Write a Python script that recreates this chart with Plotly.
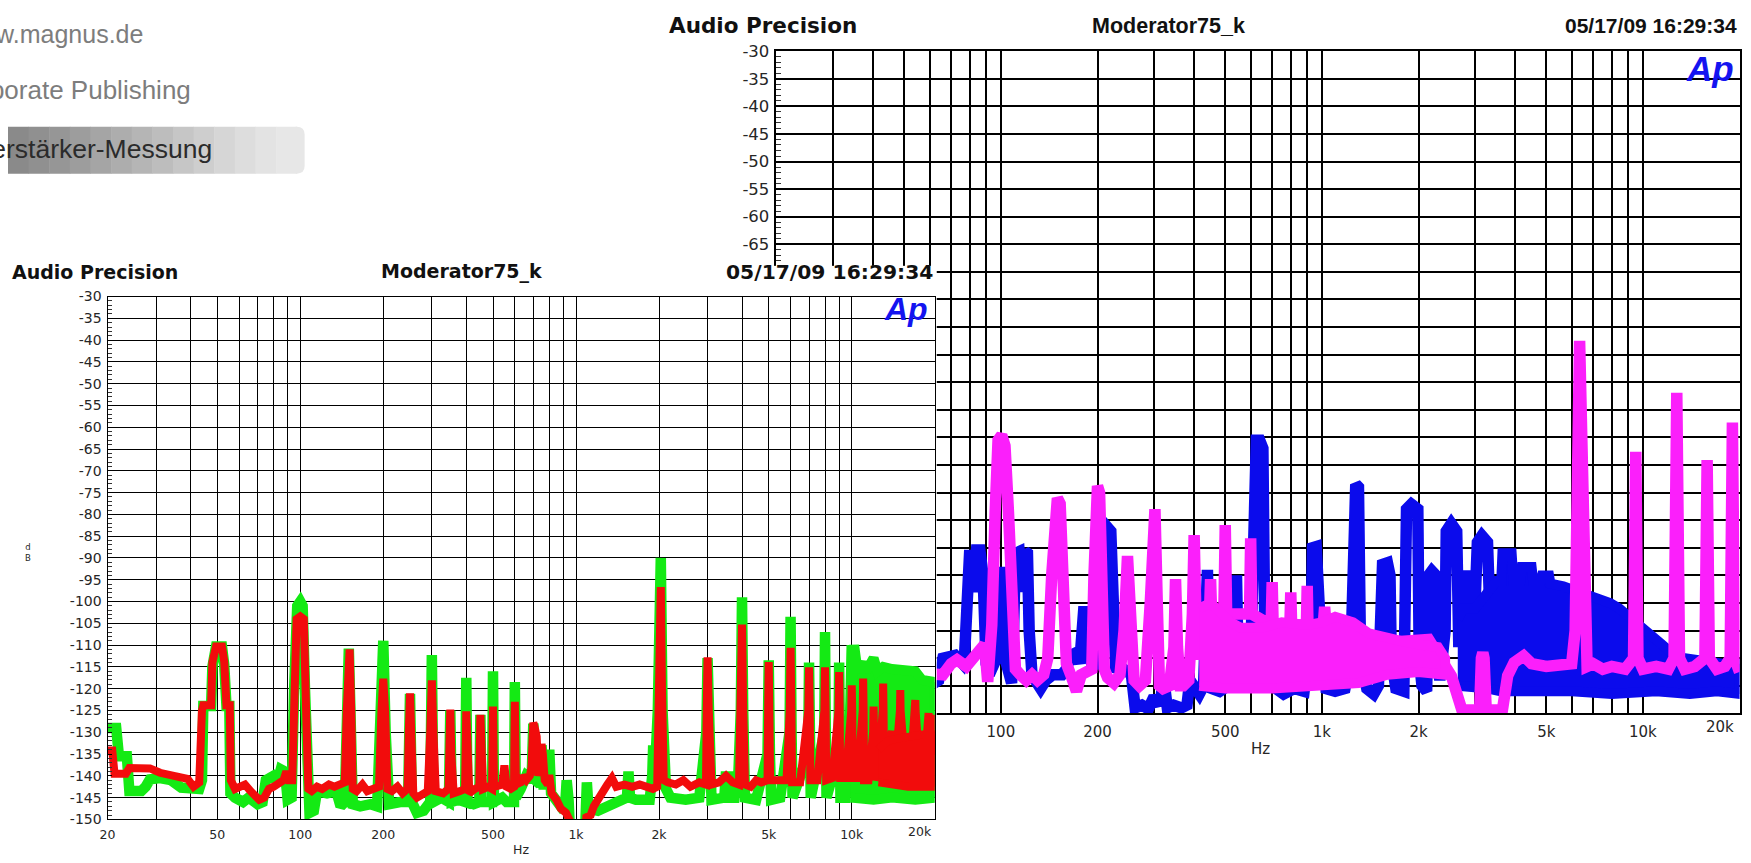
import plotly.graph_objects as go

W, H = 1751, 863
def px(x): return x / W
def py(y): return 1 - y / H

# ---------------- data ----------------
# Left chart (Audio Precision FFT, green / red)
lg_f = [20, 21.5, 22, 23.5, 24, 26.5, 27.5, 28.5, 31, 34, 37, 40, 43, 44, 44.5, 47.5, 48, 49.5, 52, 53, 54, 55.3, 55.8,
        58, 62, 65, 70, 73, 75, 80, 83, 85, 88, 90, 93, 95, 97.5, 100, 102, 104, 106, 108, 112, 115, 125, 135, 140, 145,
        148, 150, 152, 155, 165, 180, 190, 196, 200, 204, 210, 230, 246, 250, 254, 265, 280, 296, 300, 304, 325, 346,
        350, 354, 375, 396, 400, 404, 425, 446, 450, 454, 475, 496, 500, 504, 540, 560, 596, 600, 605, 630,
        660, 690, 700, 712, 740, 750, 762, 790, 800, 812, 850, 880, 915, 925, 940, 965, 1065, 1085, 1095, 1110, 1200,
        1300, 1450, 1530, 1550, 1570, 1650, 1850, 1890, 1905, 1920, 1980, 2000, 2030, 2060, 2085, 2100, 2120, 2200,
        2500, 2800, 2970, 3000, 3040, 3100, 3450, 3500, 3550, 3750, 3800, 3850, 3960, 4000, 4040, 4100, 4500, 4950,
        5000, 5050, 5100, 5500, 5950, 6000, 6050, 6100, 6950, 7000, 7050, 7100, 7950, 8000, 8050, 8100, 8950, 9000,
        9050, 9100, 9500, 9800, 10000]
lg_db = [-129, -129, -135.5, -135.5, -143.5, -143.5, -142.5, -140.8, -140.5, -141, -142.7, -143, -143, -141, -124, -124,
         -115, -110.3, -110.3, -114.5, -124, -124, -144,
         -145, -146, -145, -146.5, -146, -141, -140, -141, -138.5, -139, -145.5, -145, -120, -101, -100, -101, -120,
         -148, -148.5, -148, -143.5, -144, -143.5, -147, -146,
         -125, -110.8, -125, -146.5, -147, -146.5, -147, -130, -109, -130, -146.5, -146, -146, -121.2, -146, -148.5,
         -148, -146, -112.3, -146, -145, -146,
         -125, -146, -145.5, -146, -117.5, -146, -146.5, -146, -126, -146, -146, -146, -116, -146, -145, -146, -146,
         -118.5, -145, -143,
         -140, -141, -128, -141, -142, -133, -142, -142, -134, -144, -146, -147, -146, -141, -145.5, -162, -162,
         -148.5, -141.5, -147.5, -148,
         -147, -146, -145, -139, -145, -145.5, -145.5, -140, -133, -143, -125, -90, -90, -125, -140, -130.5, -143,
         -145,
         -145.5, -145, -130, -113, -130, -145.5, -145, -139, -145, -145, -139, -145, -125, -99, -125, -145, -145.5,
         -135,
         -113.5, -135, -145.5, -145, -130, -103.5, -130, -145, -135, -114, -135, -145, -130, -107, -130, -145, -135,
         -114,
         -135, -145, -145, -135, -110]

lg_band_top_f = [9900, 10000, 10200, 10500, 11000, 11300, 12000, 12400, 13000, 14000, 15000, 16000, 17000, 18000,
                 19000, 20000]
lg_band_top_db = [-125, -110, -110, -116, -114, -116, -113, -116, -115, -115.5, -115.5, -116, -116, -118, -118,
                  -118.5]
lg_band_bot_f = [9900, 12000, 14000, 17000, 20000]
lg_band_bot_db = [-145, -145.5, -145, -145.5, -145]

lr_f = [20, 20.8, 21.2, 23.3, 24, 28.5, 31, 35, 39, 41, 43, 44, 44.5, 47.5, 48, 49.5, 52, 53, 54, 55.5, 56, 58, 60,
        63, 66, 68, 71, 74, 77, 80, 84, 87, 89, 91, 93.5, 95, 97, 100, 103, 105, 107, 110, 115, 120, 127, 133, 140,
        145, 147.5, 149.5, 151, 153, 155, 160, 168, 175, 185, 193, 197, 200, 203, 207, 215, 225, 235, 245, 247.5,
        250, 252.5, 257, 265, 275, 290, 296, 300, 304, 310, 330, 345, 347, 350, 353, 360, 380, 396, 400, 404, 410,
        430, 446, 450, 454, 460, 480, 496, 500, 504, 540, 550, 560, 580, 596, 600, 605, 630, 640, 660, 680, 690,
        700, 706, 720, 730, 745, 750, 758, 770, 790, 800, 815, 850, 880, 920, 945, 960, 1060, 1090, 1130, 1160,
        1220, 1300, 1350, 1400, 1500, 1600, 1700, 1800, 1900, 1970, 1985, 2000, 2030, 2050, 2080, 2150, 2300, 2450,
        2600, 2800, 2960, 2980, 3000, 3030, 3100, 3300, 3500, 3700, 3900, 3960, 4000, 4040, 4100, 4300, 4500, 4700,
        4950, 4975, 5000, 5025, 5060, 5500, 5800, 5960, 6000, 6040, 6080, 6500, 6960, 7000, 7040, 7080, 7500, 7960,
        8000, 8040, 8080, 8500, 8960, 9000, 9040, 9080, 9500, 9960, 10000, 10040, 10080, 10500, 10960, 11000,
        11040, 11080, 11500, 11960, 12000, 12040, 12100, 12500, 12960, 13000, 13040, 13100, 13500, 13960, 14000,
        14040, 14500, 14960, 15000, 15040, 15500, 15960, 16000, 16040, 16500, 16960, 17000, 17040, 17500, 17960,
        18000, 18040, 18500, 18960, 19000, 19040, 19500, 19960, 20000]
lr_db = [-134.2, -134.2, -139.5, -139.5, -138.2, -138.3, -139.3, -140, -140.7, -142.5, -141.5, -125, -123.8, -123.8,
         -114, -110.3, -110.3, -113.8, -123.8, -123.8, -141, -143, -142.5,
         -142, -143.5, -144.5, -145.5, -145, -143, -142.5, -141.5, -141, -139, -141, -141, -120, -104, -103.4, -104,
         -125, -143, -143.5, -142.5, -143, -142, -142.5, -142,
         -141.5, -125, -111, -111, -125, -143, -143.5, -142, -143.5, -143, -142.5, -125, -117.7, -125, -143, -143.5,
         -142.5, -144, -143, -130,
         -121.1, -130, -144, -145, -144.5, -143.5, -130, -118.1, -130, -143.5, -144, -143, -135, -124.8, -135, -144,
         -143.5, -143, -125.2, -143, -144,
         -143, -142.5, -126, -142.5, -143, -142.5, -143, -124.1, -142.5, -142, -137.6, -142.5, -143, -142.5, -123,
         -142, -141.5, -140, -141, -140, -138,
         -127.8, -128.5, -131, -140, -136, -132.7, -135, -141, -142, -139.8, -144, -145.5, -147.5, -148.5, -150,
         -162, -162, -149.5, -149, -147,
         -144.5, -142, -140.5, -142.5, -142, -142.5, -142, -142.5, -143, -142.5, -120, -96.7, -96.7, -120, -141,
         -141.5, -142, -141,
         -142.5, -141.5, -142, -125, -112.8, -125, -142, -141.5, -140, -141.5, -142, -125, -105.3, -125, -142,
         -142.5, -141, -141.5,
         -141, -125, -113.9, -125, -141, -141, -141, -125, -110.6, -125, -141.5, -141.5, -125, -115.1, -125, -141,
         -141, -125,
         -115.1, -125, -141, -140.5, -125, -116.2, -125, -140.5, -140.5, -125, -119.2, -125, -140.5, -140.5, -125,
         -117.7,
         -125, -141, -141, -130, -124.1, -130, -141, -138, -125, -118.8, -125, -140, -135, -132, -129.7,
         -132, -135, -125, -120.3, -125, -135, -134, -133.4, -134, -135, -125, -122.6, -125, -135, -134,
         -133.4, -134, -135, -128, -125.6, -128, -135, -128, -126]

lr_band_top_f = [12500, 13500, 14500, 16000, 18000, 20000]
lr_band_top_db = [-134, -132, -131.5, -131, -130.5, -130.5]
lr_band_bot_f = [12500, 13500, 16000, 20000]
lr_band_bot_db = [-141.5, -142, -142.5, -142.5]

# Right chart (Audio Precision FFT, blue / magenta)
rb_f = [50, 62, 64, 66, 72, 76, 77, 78.5, 80, 82, 84, 86, 88, 90, 92, 97, 100, 103, 108, 109, 111, 114, 116.5, 119,
        121, 122.5, 125, 128,
        133, 138, 145, 155, 160, 165, 172, 176, 178, 181, 186, 189, 195, 200, 205, 207, 210, 214, 220, 224, 228, 235,
        245, 255, 262, 275, 288, 300, 312, 322, 330, 345, 365, 380, 388, 400, 415, 428, 432, 440, 445, 455, 480, 510,
        530, 535, 542, 548, 570, 600, 612, 625, 640, 655, 665, 700, 760, 820, 880, 925, 935, 960, 990, 1030, 1100,
        1180, 1230, 1250, 1275, 1300, 1320, 1380, 1450, 1500, 1530, 1545, 1600, 1630, 1645, 1700, 1800, 1820, 1835,
        1900, 1990, 2010, 2050, 2120, 2135, 2150, 2200, 2265, 2290, 2330, 2420, 2440, 2530, 2630, 2670, 2700, 2720,
        2800, 2880, 2920, 2950, 3000, 3050, 3150, 3280, 3320]
rb_db = [-144, -144.5, -144, -140, -139.5, -141, -140, -121, -120.4, -128, -120.4, -120.4, -125, -141, -143, -140,
         -123.5, -140, -144.5, -140, -121, -120.7, -128, -120.7, -121, -135, -143, -144,
         -145.5, -144, -143, -143, -142, -139.5, -139, -141, -135, -131.6, -131.6, -140, -142, -130, -140, -140, -117,
         -116.2, -117, -140, -142.5, -141.5,
         -142, -143, -149, -148.5, -149.2, -147, -148.5, -144, -149, -148.5, -149, -148.5, -144, -145, -146.5, -145,
         -124, -124, -140, -145.5, -146, -145,
         -140, -125, -125, -140, -145.5, -140, -102, -100.5, -100.5, -102, -140, -145, -146.5, -145.5, -146, -135,
         -120, -119.8, -135, -145.5, -146,
         -145.5, -140, -109, -108.5, -109, -140, -145.5, -146.5, -145, -135, -123, -122.7, -125, -140, -145.5, -146,
         -130, -113,
         -112.1, -113, -140, -145, -146, -130, -125, -124.2, -125, -140, -144, -135, -117, -115.6, -117, -138, -130,
         -126,
         -124.5, -126, -140, -142, -130, -119, -117.8, -119, -128]

rb_band_top_f = [2650, 2750, 3000, 3300, 3500, 3620, 3650, 3900, 3950, 4150, 4200, 4500, 4550, 4800, 4850, 5100,
                 5150, 5650, 6500, 7200, 7900, 8450, 9200, 9900, 10600, 11400, 12700, 14700, 17700, 20000]
rb_band_top_db = [-133, -131, -131, -128, -126, -126, -121, -121, -126, -126, -123.5, -123.5, -126, -126, -125, -125,
                  -126.5, -127, -128.3, -128.9, -130, -131, -132.7, -134.5, -135.7, -137.4, -139.8, -140.4, -141,
                  -141]
rb_band_bot_f = [2650, 3300, 3600, 4500, 6000, 8000, 11000, 14000, 17000, 20000]
rb_band_bot_db = [-145, -145.5, -146, -146, -146, -146.5, -146, -146.5, -146, -146.5]

rm_f = [50, 62, 66, 70, 73, 78, 82, 86, 89, 91, 93.7, 96, 98, 100.6, 103, 105.6, 108.2, 111, 115, 120, 125, 130, 136,
        140, 144, 147, 150, 153, 156, 160, 165, 172, 178, 185, 192, 195, 198, 200, 203, 206, 210, 215, 225, 235, 242,
        248, 254, 260, 270, 282, 292, 297, 302, 307, 312, 320, 335, 346, 350, 355, 362, 370, 385, 395, 400, 405, 412,
        445, 450, 455, 495, 500, 505, 595, 600, 605, 695, 700, 705, 795, 800, 805, 895, 900, 905, 1010, 1020, 1030,
        1100, 1550, 2150, 2420, 2530, 2730, 3100, 3140, 3172, 3200, 3250, 3650, 3790, 3970, 4250, 4500, 5000, 5500,
        6000, 6150, 6250, 6350, 6450, 6550, 6700, 7000, 7500, 8000, 8800, 9350, 9500, 9650, 10000, 11000, 12000,
        12500, 12750, 13000, 13500, 14500, 15600, 15850, 16100, 17000, 18000, 18700, 19000, 19300, 20000]
rm_db = [-142.5, -142.6, -143, -141, -140.3, -141.5, -140, -138.2, -137.5, -144.3, -134, -113.5, -100.5, -99.6, -101.5,
         -113.5, -134, -142, -143, -144, -143, -144, -143,
         -140, -125, -112, -111, -112, -125, -141, -143, -146, -143, -142.5, -142, -125, -110, -108.8, -110, -125, -142,
         -143.5, -144.5, -143, -135,
         -121.5, -135, -144, -145, -144, -130, -113, -113, -130, -145, -145.5, -145, -138, -125.7, -138, -145, -145,
         -144, -132, -117.7, -132, -140,
         -135, -125.7, -135, -132, -115.9, -132, -132, -118.3, -132, -134, -126.2, -134, -134, -128.1, -134, -134,
         -126.9, -134, -134, -130.7, -134,
         -133, -137.2, -136.6, -141, -143.2, -149.4, -149.4, -140, -139, -140, -149.4, -149.4, -143.2, -140.8, -139.6,
         -141, -141.5, -141,
         -141, -135, -100, -82.5, -100, -135, -141.5, -141, -142, -141.5, -142, -140, -102.6, -140, -142, -141.5,
         -142,
         -140, -91.9, -140, -142, -141.5, -140, -104.1, -140, -142, -141.5, -140, -97.3, -140, -142.5]

rm_band_top_f = [415, 450, 520, 560, 650, 750, 900, 1000, 1100, 1250, 1400, 1600, 1800, 2000, 2300, 2420]
rm_band_top_db = [-131, -130, -133.5, -134.5, -134.5, -133.5, -134, -133.5, -132.5, -133.5, -135.5, -136.5, -137,
                  -137.5, -138, -140]
rm_band_bot_f = [415, 500, 700, 1000, 1300, 1600, 2000, 2420]
rm_band_bot_db = [-145, -145.5, -145.5, -145, -144.5, -143, -142.5, -143]

# axis ticks
x_tickvals = [20, 30, 40, 50, 60, 70, 80, 90, 100, 200, 300, 400, 500, 600, 700, 800, 900,
              1000, 2000, 3000, 4000, 5000, 6000, 7000, 8000, 9000, 10000, 20000]
x_ticktext = ["20", "", "", "50", "", "", "", "", "100", "200", "", "", "500", "", "", "", "",
              "1k", "2k", "", "", "5k", "", "", "", "", "10k", ""]
y_tickvals = list(range(-150, -25, 5))
y_ticktext = ["-150", "-145", "-140", "-135", "-130", "-125", "-120", "-115", "-110", "-105", "-100", "-95", "-90",
              "-85", "-80", "-75", "-70", "-65", "-60", "-55", "-50", "-45", "-40", "-35", "-30"]
# labels of the back chart that stay visible (the rest lies under the front screenshot)
x_ticktext_back = ["" if t in ("20", "50") else t for t in x_ticktext]
y_ticktext_back = [t if v >= -65 else "" for v, t in zip(y_tickvals, y_ticktext)]

GREEN, RED, BLUE, MAGENTA = "#14ea14", "#f20c0c", "#0b0bec", "#fb1ffb"

# ---------------- figure ----------------
fig = go.Figure()

def band(tf, tdb, bf, bdb, color, width, xa, ya):
    return go.Scatter(x=tf + bf[::-1], y=tdb + bdb[::-1], mode="lines", fill="toself", fillcolor=color,
                      line=dict(color=color, width=width), xaxis=xa, yaxis=ya, hoverinfo="skip")

# right chart (bottom layer) -> x / y
fig.add_trace(go.Scatter(x=rb_f, y=rb_db, mode="lines", line=dict(color=BLUE, width=11.5), xaxis="x", yaxis="y"))
fig.add_trace(band(rb_band_top_f, rb_band_top_db, rb_band_bot_f, rb_band_bot_db, BLUE, 10, "x", "y"))
fig.add_trace(go.Scatter(x=rm_f, y=rm_db, mode="lines", line=dict(color=MAGENTA, width=11.5), xaxis="x", yaxis="y"))
fig.add_trace(band(rm_band_top_f, rm_band_top_db, rm_band_bot_f, rm_band_bot_db, MAGENTA, 10, "x", "y"))

# cover sheet (the pasted left screenshot background) -> x2 / y2
fig.add_trace(go.Scatter(x=[0], y=[0], mode="markers", marker=dict(opacity=0), xaxis="x2", yaxis="y2",
                         hoverinfo="skip"))

# left chart (top layer) -> x3 / y3
fig.add_trace(go.Scatter(x=lg_f, y=lg_db, mode="lines", line=dict(color=GREEN, width=10.5), xaxis="x3", yaxis="y3"))
fig.add_trace(band(lg_band_top_f, lg_band_top_db, lg_band_bot_f, lg_band_bot_db, GREEN, 10, "x3", "y3"))
fig.add_trace(go.Scatter(x=lr_f, y=lr_db, mode="lines", line=dict(color=RED, width=8), xaxis="x3", yaxis="y3"))
fig.add_trace(band(lr_band_top_f, lr_band_top_db, lr_band_bot_f, lr_band_bot_db, RED, 8, "x3", "y3"))

TXT = "#262626"

def xaxis_style(dom, anchor, size, gw, standoff, ttext):
    return dict(type="log", range=[1.30103, 4.30103], domain=dom, anchor=anchor,
                tickvals=x_tickvals, ticktext=ttext, showgrid=True, gridcolor="#000", gridwidth=gw,
                showline=True, linecolor="#000", linewidth=gw, mirror=True, ticks="", zeroline=False,
                tickfont=dict(family="DejaVu Sans", size=size, color=TXT), ticklabelstandoff=standoff)

def yaxis_style(dom, anchor, size, gw, tl, ttext):
    return dict(range=[-150, -30], domain=dom, anchor=anchor, tickvals=y_tickvals, ticktext=ttext,
                showgrid=True, gridcolor="#000", gridwidth=gw, showline=True, linecolor="#000", linewidth=gw,
                mirror=True, ticks="inside", ticklen=tl, tickcolor="#000", tickwidth=1, zeroline=False,
                minor=dict(ticks="inside", dtick=1, ticklen=tl, tickcolor="#333", tickwidth=1, showgrid=False),
                tickfont=dict(family="DejaVu Sans", size=size, color=TXT), ticklabelstandoff=2)

fig.update_layout(
    width=W, height=H, margin=dict(l=0, r=0, t=0, b=0), autosize=False,
    paper_bgcolor="white", plot_bgcolor="white", showlegend=False,
    xaxis=xaxis_style([px(772), px(1739.5)], "y", 15, 1.6, 4, x_ticktext_back),
    yaxis=yaxis_style([py(718.5), py(43)], "x", 16.5, 1.6, 5, y_ticktext_back),
    xaxis2=dict(domain=[0, px(933)], anchor="y2", range=[0, 1], showgrid=False, showline=False,
                showticklabels=False, zeroline=False, ticks=""),
    yaxis2=dict(domain=[0, py(262)], anchor="x2", range=[0, 1], showgrid=False, showline=False,
                showticklabels=False, zeroline=False, ticks=""),
    xaxis3=xaxis_style([px(100), px(931)], "y3", 12.5, 1.2, 3, x_ticktext),
    yaxis3=yaxis_style([py(826.7), py(293.3)], "x3", 14, 1.2, 4, y_ticktext),
)

ann = []
def text(x, y, s, size, color=TXT, family="DejaVu Sans", xanchor="center", bold=False):
    ann.append(dict(x=px(x), y=py(y), xref="paper", yref="paper", text=(f"<b>{s}</b>" if bold else s),
                    showarrow=False, xanchor=xanchor, yanchor="middle",
                    font=dict(family=family, size=size, color=color)))

# web page remnants (cut at the left edge, as in the screenshot)
text(138, 25, "www.magnus.de", 25, "#7d7d7d", "Liberation Sans", "right")
text(186, 83, "Corporate Publishing", 26, "#7d7d7d", "Liberation Sans", "right")

# gradient button
grays = ["#8a8a8a", "#909090", "#969696", "#9d9d9d", "#a5a5a5", "#adadad", "#b5b5b5", "#bdbdbd",
         "#c6c6c6", "#cecece", "#d6d6d6", "#dddddd", "#e3e3e3", "#e7e7e7"]
shapes = []
sw = 290 / len(grays)
for i, g in enumerate(grays):
    shapes.append(dict(type="rect", xref="paper", yref="paper", x0=px(i * sw), x1=px((i + 1) * sw + 0.5),
                       y0=py(168), y1=py(120), fillcolor=g, line=dict(width=0), layer="below"))
shapes.append(dict(type="path", xref="paper", yref="paper", layer="below", fillcolor="#e7e7e7",
                   line=dict(width=0),
                   path=(f"M {px(289)},{py(120)} L {px(290)},{py(120)} Q {px(298)},{py(120)} {px(298)},{py(128)} "
                         f"L {px(298)},{py(160)} Q {px(298)},{py(168)} {px(290)},{py(168)} L {px(289)},{py(168)} Z")))
text(207, 143, "Verstärker-Messung", 26.5, "#2b2b2b", "Liberation Sans", "right")

# right chart header
text(662, 17, "Audio Precision", 21.5, "#111", "DejaVu Sans", "left", True)
text(1166, 17, "Moderator75_k", 21.5, "#111", "Liberation Sans", "center", True)
text(1739, 17, "05/17/09 16:29:34", 21, "#111", "Liberation Sans", "right", True)
# left chart header
text(2, 268, "Audio Precision", 19, "#111", "DejaVu Sans", "left", True)
text(456, 268, "Moderator75_k", 19, "#111", "DejaVu Sans", "center", True)
text(931, 268, "05/17/09 16:29:34", 20.3, "#111", "DejaVu Sans", "right", True)

# Ap logos
ann.append(dict(x=px(1710), y=py(61), xref="paper", yref="paper", text="<b><i>Ap</i></b>", showarrow=False,
                xanchor="center", yanchor="middle",
                font=dict(family="Liberation Sans", size=35, color="#1414f0")))
ann.append(dict(x=px(902), y=py(306), xref="paper", yref="paper", text="<b><i>Ap</i></b>", showarrow=False,
                xanchor="center", yanchor="middle",
                font=dict(family="Liberation Sans", size=32, color="#1414f0")))

# axis titles and edge labels
text(1258, 755, "Hz", 15)
text(515, 857, "Hz", 12.5)
text(1736, 732, "20k", 15, xanchor="right")
text(930, 839, "20k", 12.5, xanchor="right")
text(20, 554, "d<br>B", 8.5)

fig.update_layout(annotations=ann, shapes=shapes)
fig.write_html("out.html", config={"displayModeBar": False},
               post_script="document.body.style.margin='0px';document.documentElement.style.overflow='hidden';")
